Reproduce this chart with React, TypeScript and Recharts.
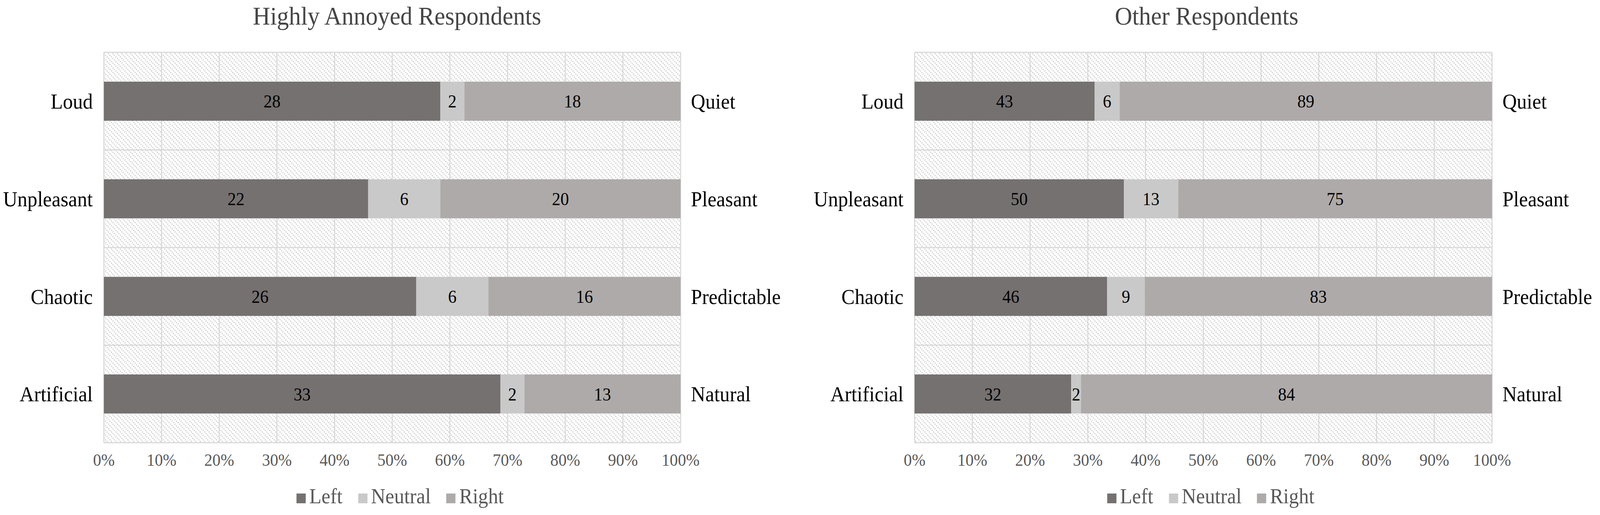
import React from 'react';
import {
  BarChart,
  Bar,
  XAxis,
  YAxis,
  CartesianGrid,
  LabelList,
  Legend,
} from 'recharts';

const leftLabels = ['Loud', 'Unpleasant', 'Chaotic', 'Artificial'];
const rightLabels = ['Quiet', 'Pleasant', 'Predictable', 'Natural'];
const seriesNames = ['Left', 'Neutral', 'Right'];
const seriesKeys = ['left', 'neutral', 'right'];
const seriesColors = ['#757171', '#c9c9c9', '#aeaaaa'];

const annoyedLeft = [28, 22, 26, 33];
const annoyedNeutral = [2, 6, 6, 2];
const annoyedRight = [18, 20, 16, 13];

const otherLeft = [43, 50, 46, 32];
const otherNeutral = [6, 13, 9, 2];
const otherRight = [89, 75, 83, 84];

const xTicks = [0, 0.1, 0.2, 0.3, 0.4, 0.5, 0.6, 0.7, 0.8, 0.9, 1];

const FONT = '"Liberation Serif", "Times New Roman", serif';

const DESIGN_W = 4328;
const DESIGN_H = 1318;
const VW = typeof window !== 'undefined' ? window.innerWidth : DESIGN_W;
const VH = typeof window !== 'undefined' ? window.innerHeight : DESIGN_H;
const SX = Math.min(1, VW / DESIGN_W);
const SY = Math.min(1, VH / DESIGN_H);

function buildRows(l: number[], n: number[], r: number[]) {
  return leftLabels.map((lab, i) => ({
    leftLabel: lab,
    rightLabel: rightLabels[i],
    left: l[i],
    neutral: n[i],
    right: r[i],
  }));
}

const annoyedData = buildRows(annoyedLeft, annoyedNeutral, annoyedRight);
const otherData = buildRows(otherLeft, otherNeutral, otherRight);

const pct = (v: number) => `${Math.round(v * 100)}%`;

function LegendContent({ shift }: { shift: number }) {
  return (
    <div
      style={{
        height: 80,
        lineHeight: '64px',
        display: 'flex',
        justifyContent: 'center',
        paddingLeft: shift,
        fontFamily: FONT,
        fontSize: 54,
        color: '#595959',
        whiteSpace: 'nowrap',
      }}
    >
      {seriesNames.map((name, i) => (
        <span key={name} style={{ marginRight: i < seriesNames.length - 1 ? 42 : 0 }}>
          <span
            style={{
              display: 'inline-block',
              width: 25,
              height: 25,
              background: seriesColors[i],
              marginRight: 10,
              verticalAlign: 'baseline',
            }}
          />
          {name}
        </span>
      ))}
    </div>
  );
}

type PanelProps = {
  id: string;
  title: string;
  data: ReturnType<typeof buildRows>;
  left: number;
  yLeftWidth: number;
  yRightWidth: number;
  titleCenter: number;
  legendShift: number;
};

function Panel({ id, title, data, left, yLeftWidth, yRightWidth, titleCenter, legendShift }: PanelProps) {
  const W = 2164;
  const H = 1318;
  return (
    <div style={{ position: 'absolute', left, top: 0, width: W, height: H }}>
      <div
        style={{
          position: 'absolute',
          left: titleCenter - 1000,
          width: 2000,
          top: 9,
          textAlign: 'center',
          fontFamily: FONT,
          fontSize: 65,
          lineHeight: '65px',
          color: '#454545',
          whiteSpace: 'nowrap',
        }}
      >
        {title}
      </div>
      <BarChart
        width={W}
        height={H}
        data={data}
        layout="vertical"
        stackOffset="expand"
        barCategoryGap="30%"
        margin={{ top: 134, right: 0, bottom: 0, left: 0 }}
      >
        <defs>
          <pattern id={`hatch-${id}`} patternUnits="userSpaceOnUse" width="12" height="12">
            <rect x="0" y="0" width="12" height="12" fill="#ffffff" />
            <rect x="0" y="0" width="3.2" height="3.2" fill="#d3d3d3" />
            <rect x="4" y="4" width="3.2" height="3.2" fill="#d3d3d3" />
            <rect x="8" y="8" width="3.2" height="3.2" fill="#d3d3d3" />
          </pattern>
        </defs>
        <CartesianGrid
          fill={`url(#hatch-${id})`}
          fillOpacity={1}
          stroke="#d9d9d9"
          strokeWidth={3}
          horizontalCoordinatesGenerator={({ offset }: any) =>
            [0, 1, 2, 3, 4].map((i) => offset.top + (i * offset.height) / leftLabels.length)
          }
        />
        <XAxis
          type="number"
          domain={[0, 1]}
          ticks={xTicks}
          tickFormatter={pct}
          axisLine={false}
          tickLine={false}
          tickSize={0}
          tickMargin={28}
          height={105}
          tick={{ fontSize: 44, fill: '#595959', fontFamily: FONT }}
          interval={0}
        />
        <YAxis
          type="category"
          dataKey="leftLabel"
          width={yLeftWidth}
          axisLine={false}
          tickLine={false}
          tickSize={0}
          tickMargin={30}
          tick={{ fontSize: 54, fill: '#000000', fontFamily: FONT }}
          interval={0}
        />
        <YAxis
          yAxisId="r"
          type="category"
          dataKey="rightLabel"
          orientation="right"
          width={yRightWidth}
          axisLine={false}
          tickLine={false}
          tickSize={0}
          tickMargin={28}
          tick={{ fontSize: 54, fill: '#000000', fontFamily: FONT }}
          interval={0}
        />
        {seriesKeys.map((k, i) => (
          <Bar
            key={k}
            dataKey={k}
            name={seriesNames[i]}
            stackId="s"
            fill={seriesColors[i]}
            isAnimationActive={false}
          >
            <LabelList
              dataKey={k}
              position="center"
              fill="#000000"
              fontSize={46}
              fontFamily={FONT}
            />
          </Bar>
        ))}
        <Legend
          verticalAlign="bottom"
          wrapperStyle={{ height: 80, left: 0 }}
          content={() => <LegendContent shift={legendShift} />}
        />
      </BarChart>
    </div>
  );
}

export default function App() {
  return (
    <div
      style={{
        position: 'relative',
        width: DESIGN_W * SX,
        height: DESIGN_H * SY,
        overflow: 'hidden',
        background: '#ffffff',
      }}
    >
      <style>{`body{margin:0;background:#fff;overflow:hidden;}`}</style>
      <div
        style={{
          position: 'absolute',
          left: 0,
          top: 0,
          width: DESIGN_W,
          height: DESIGN_H,
          transform: `scale(${SX}, ${SY})`,
          transformOrigin: '0 0',
          background: '#ffffff',
          fontFamily: FONT,
        }}
      >
        <Panel
          id="a"
          title="Highly Annoyed Respondents"
          data={annoyedData}
          left={0}
          yLeftWidth={281}
          yRightWidth={323}
          titleCenter={1074}
          legendShift={0}
        />
        <Panel
          id="b"
          title="Other Respondents"
          data={otherData}
          left={2164}
          yLeftWidth={310}
          yRightWidth={292}
          titleCenter={1100}
          legendShift={58}
        />
      </div>
    </div>
  );
}
